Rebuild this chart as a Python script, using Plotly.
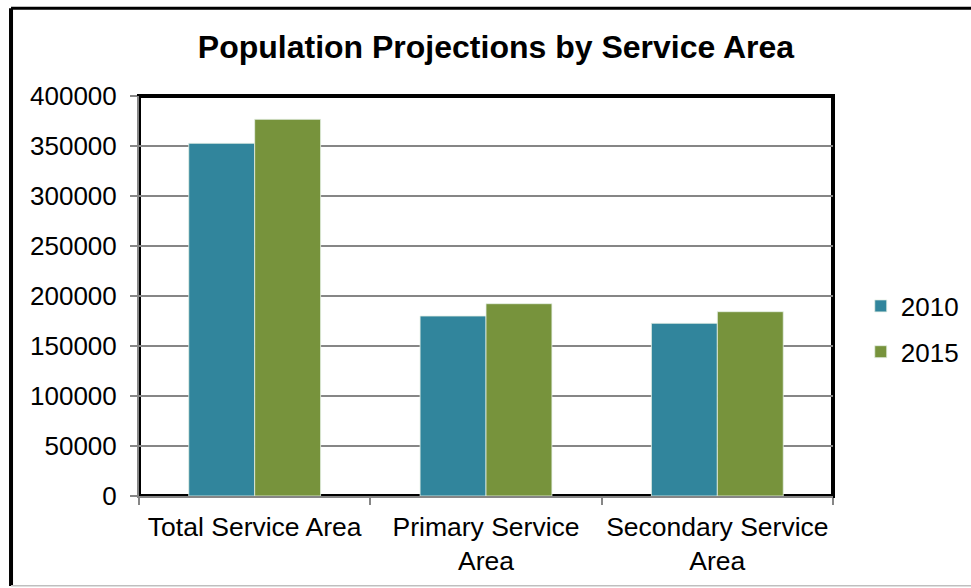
import plotly.graph_objects as go

categories = ["Total Service Area", "Primary Service<br>Area", "Secondary Service<br>Area"]
series_names = ["2010", "2015"]
values_2010 = [352700, 180000, 172700]
values_2015 = [376700, 192300, 184300]
colors = ["#31859C", "#77933C"]
y_ticks = [0, 50000, 100000, 150000, 200000, 250000, 300000, 350000, 400000]

fig = go.Figure()
for name, vals, col in zip(series_names, [values_2010, values_2015], colors):
    fig.add_trace(go.Bar(
        x=categories, y=vals, name=name, legendgroup=name,
        marker=dict(color=col, line=dict(color="rgba(230,240,230,0.8)", width=1)),
    ))

font = "Liberation Sans, Arial, sans-serif"
fig.update_layout(
    width=971, height=588,
    margin=dict(l=139, r=138, t=96, b=92, autoexpand=False),
    paper_bgcolor="white", plot_bgcolor="white",
    barmode="group", bargap=0.43, bargroupgap=0,
    title=dict(text="<b>Population Projections by Service Area</b>",
               x=0.5108, xanchor="center", y=0.92, yanchor="middle",
               font=dict(family=font, size=32, color="black")),
    font=dict(family=font, size=26, color="black"),
    legend=dict(x=1.04, xanchor="left", y=0.4175, yanchor="middle",
                font=dict(family=font, size=26, color="black"),
                tracegroupgap=9, traceorder="grouped",
                bgcolor="rgba(0,0,0,0)"),
    xaxis=dict(showline=True, linecolor="#868686", linewidth=2,
               ticks="outside", tickson="boundaries", ticklen=7,
               tickcolor="#868686", tickwidth=2, ticklabelstandoff=6,
               tickangle=0, automargin=False,
               tickfont=dict(family=font, size=26.5, color="black"),
               showgrid=False),
    yaxis=dict(range=[0, 400000], tickvals=y_ticks,
               ticktext=[str(v) for v in y_ticks],
               showline=True, linecolor="#868686", linewidth=2,
               ticks="outside", ticklen=7, tickcolor="#868686", tickwidth=2,
               ticklabelstandoff=8, automargin=False,
               showgrid=True, gridcolor="#868686", gridwidth=1.5,
               zeroline=False,
               tickfont=dict(family=font, size=26, color="black")),
    shapes=[
        dict(type="rect", xref="paper", yref="paper", x0=0, x1=1, y0=0, y1=1,
             line=dict(color="black", width=4), layer="below"),
        # outer chart border (top & left black, bottom gray)
        dict(type="line", xref="paper", yref="paper", x0=-0.1844, x1=1.205,
             y0=1.2195, y1=1.2195, line=dict(color="black", width=3)),
        dict(type="line", xref="paper", yref="paper", x0=-0.1844, x1=-0.1844,
             y0=1.2195, y1=-0.225, line=dict(color="black", width=4)),
        dict(type="line", xref="paper", yref="paper", x0=-0.1844, x1=1.205,
             y0=-0.2245, y1=-0.2245, line=dict(color="#BFBFBF", width=1.5)),
    ],
)

fig.write_html("out.html", config={"displayModeBar": False},
               post_script="document.body.style.margin='0';")
